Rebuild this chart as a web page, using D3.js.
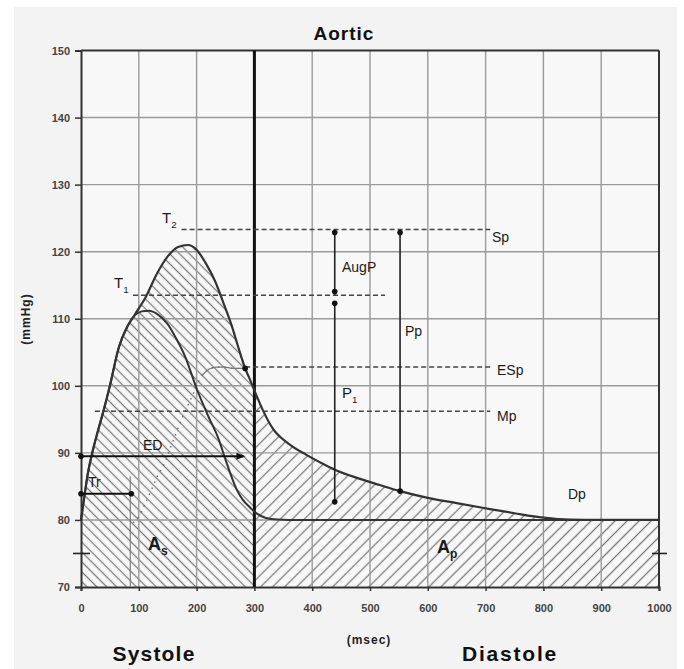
<!DOCTYPE html>
<html>
<head>
<meta charset="UTF-8">
<title>Aortic</title>
<script src="https://cdnjs.cloudflare.com/ajax/libs/d3/7.8.5/d3.min.js"></script>
<style>
  body { margin: 0; background: #fff; }
  svg text { font-family: "Liberation Sans", Arial, sans-serif; }
</style>
</head>
<body>
<div id="chart"></div>
<script>
// ---- data (msec, mmHg) ----
var xTicks = [0, 100, 200, 300, 400, 500, 600, 700, 800, 900, 1000];
var yTicks = [70, 80, 90, 100, 110, 120, 130, 140, 150];

var aortic = [[0,80],[5,83],[12,87],[20,90.2],[30,93.5],[40,96.6],[50,100],[65,105.6],[80,108.8],
  [93,110.6],[113,113.4],[130,116.5],[150,119.3],[168,120.7],[185,121],[200,120.3],[215,118.4],
  [232,115.6],[248,112],[261,108.9],[273,105.5],[284,102.6],[292,101],[300,99.3],[315,96.3],
  [332,93.6],[360,91.3],[390,89.7],[420,88.3],[439,87.5],[480,86.2],[517,85.2],[552,84.3],
  [600,83.3],[650,82.5],[702,81.7],[750,81],[800,80.35],[846,80.05],[900,80],[1000,80]];

var forwardWave = [[0,80],[5,83],[12,87],[20,90.2],[30,93.5],[40,96.6],[50,100],[65,105.6],[80,108.8],
  [93,110.5],[105,111.1],[118,111.2],[132,110.7],[150,109.2],[165,107],[180,104.4],[200,99.6],
  [220,95.5],[237,92.3],[250,89],[261,86.3],[270,84.4],[280,83],[292,81.9],[305,80.9],[320,80.3],
  [340,80.05],[360,80],[1000,80]];

var reflectedWave = [[90,79.6],[100,80.5],[113,82.8],[122,84.5],[131,86.3],[142,88],[158,91.5],
  [174,95],[191,98.2],[209,101.5],[222,102.5],[235,102.8],[248,102.8],[262,102.6],[284,102.6]];

// dashed levels: label, mmHg, from, to
var levelNames = ["Sp", "T1", "ESp", "Mp"];
var levelValues = [123.3, 113.5, 102.8, 96.2];
var levelFrom = [174, 90, 284, 24];
var levelTo = [708, 526, 708, 708];

// vertical arrows: x msec, top, bottom
var augP = [439, 123.3, 113.6];
var p1 = [439, 112.3, 82.7];
var pp = [552, 123.3, 84.3];
// horizontal arrows: y mmHg, from, to
var ed = [89.5, 0, 281];
var tr = [83.9, 0, 87];

var W = 684, H = 669;
var svg = d3.select("#chart").append("svg").attr("width", W).attr("height", H);

var x = d3.scaleLinear().domain([0, 1000]).range([81, 659]);
var y = d3.scaleLinear().domain([70, 150]).range([587, 50.5]);

// scanned page background
svg.append("rect").attr("x", 14).attr("y", 7).attr("width", 663).attr("height", 662).attr("fill", "#f3f3f3");
svg.append("rect").attr("x", x(0)).attr("y", y(150)).attr("width", x(1000) - x(0)).attr("height", y(70) - y(150))
  .attr("fill", "#f8f8f8");

var defs = svg.append("defs");
function hatch(id, angle, gap) {
  var p = defs.append("pattern").attr("id", id).attr("patternUnits", "userSpaceOnUse")
    .attr("width", gap).attr("height", gap).attr("patternTransform", "rotate(" + angle + ")");
  p.append("line").attr("x1", 0).attr("y1", gap / 2).attr("x2", gap).attr("y2", gap / 2)
    .attr("stroke", "#7a7a7a").attr("stroke-width", 1.3);
}
hatch("hatchS", 45, 7);
hatch("hatchD", -45, 8.5);

defs.append("clipPath").attr("id", "clipS").append("rect")
  .attr("x", x(0)).attr("y", 0).attr("width", x(300) - x(0)).attr("height", H);
defs.append("clipPath").attr("id", "clipD").append("rect")
  .attr("x", x(300)).attr("y", 0).attr("width", x(1000) - x(300)).attr("height", H);

var curve = d3.curveMonotoneX;
var area = d3.area().x(function(d) { return x(d[0]); }).y0(y(70)).y1(function(d) { return y(d[1]); }).curve(curve);
var line = d3.line().x(function(d) { return x(d[0]); }).y(function(d) { return y(d[1]); }).curve(curve);

svg.append("path").datum(aortic).attr("d", area).attr("fill", "url(#hatchS)").attr("clip-path", "url(#clipS)");
svg.append("path").datum(aortic).attr("d", area).attr("fill", "url(#hatchD)").attr("clip-path", "url(#clipD)");

// grid
svg.append("g").selectAll("line").data(xTicks.slice(1, -1)).enter().append("line")
  .attr("x1", function(d) { return x(d); }).attr("x2", function(d) { return x(d); })
  .attr("y1", y(150)).attr("y2", y(70)).attr("stroke", "#9a9a9a").attr("stroke-width", 1.4);
svg.append("g").selectAll("line").data(yTicks.slice(1, -1)).enter().append("line")
  .attr("x1", x(0)).attr("x2", x(1000)).attr("y1", function(d) { return y(d); }).attr("y2", function(d) { return y(d); })
  .attr("stroke", "#9a9a9a").attr("stroke-width", 1.4);

// axes
var gy = svg.append("g").attr("transform", "translate(" + x(0) + ",0)")
  .call(d3.axisLeft(y).tickValues(yTicks).tickFormat(d3.format("d")).tickSize(6).tickPadding(5));
var gx = svg.append("g").attr("transform", "translate(0," + y(70) + ")")
  .call(d3.axisBottom(x).tickValues(xTicks).tickFormat(d3.format("d")).tickSize(4).tickPadding(13));
[gx, gy].forEach(function(g) {
  g.select(".domain").attr("stroke", "#333").attr("stroke-width", 2);
  g.selectAll(".tick line").attr("stroke", "#333").attr("stroke-width", 1.5);
  g.selectAll(".tick text").attr("fill", "#444").style("font-size", "11px").style("font-weight", "bold")
    .style("font-family", "'Liberation Sans', Arial, sans-serif");
});

// frame
svg.append("line").attr("x1", x(0)).attr("x2", x(1000)).attr("y1", y(150)).attr("y2", y(150))
  .attr("stroke", "#333").attr("stroke-width", 2.2);
svg.append("line").attr("x1", x(1000)).attr("x2", x(1000)).attr("y1", y(150)).attr("y2", y(70))
  .attr("stroke", "#333").attr("stroke-width", 2);
svg.append("line").attr("x1", x(300)).attr("x2", x(300)).attr("y1", y(150)).attr("y2", y(70))
  .attr("stroke", "#111").attr("stroke-width", 3);

// + marks at 75
svg.append("line").attr("x1", x(0) - 8).attr("x2", x(0) + 9).attr("y1", y(75)).attr("y2", y(75))
  .attr("stroke", "#222").attr("stroke-width", 1.6);
svg.append("line").attr("x1", x(1000) - 7).attr("x2", x(1000) + 8).attr("y1", y(75)).attr("y2", y(75))
  .attr("stroke", "#222").attr("stroke-width", 1.6);

// Tr vertical guide
svg.append("line").attr("x1", x(tr[2]) - 1).attr("x2", x(tr[2]) - 1).attr("y1", y(86.5)).attr("y2", y(70))
  .attr("stroke", "#777").attr("stroke-width", 1.1);

// reflected wave
svg.append("path").datum(reflectedWave).attr("d", line).attr("fill", "none")
  .attr("stroke", "#666").attr("stroke-width", 1.3).attr("stroke-dasharray", "1.5,5");
svg.append("path").datum(reflectedWave.filter(function(d) { return d[0] >= 200; })).attr("d", line)
  .attr("fill", "none").attr("stroke", "#777").attr("stroke-width", 1.2);

// waves
svg.append("path").datum(forwardWave).attr("d", line).attr("fill", "none")
  .attr("stroke", "#333").attr("stroke-width", 2);
svg.append("path").datum(aortic).attr("d", line).attr("fill", "none")
  .attr("stroke", "#333").attr("stroke-width", 2.2);

// dashed levels
levelNames.forEach(function(n, i) {
  svg.append("line").attr("x1", x(levelFrom[i])).attr("x2", x(levelTo[i]))
    .attr("y1", y(levelValues[i])).attr("y2", y(levelValues[i]))
    .attr("stroke", "#444").attr("stroke-width", 1.6).attr("stroke-dasharray", "5,3");
});

// arrows
function dot(cx, cy) {
  svg.append("circle").attr("cx", cx).attr("cy", cy).attr("r", 2.8).attr("fill", "#111");
}
[augP, p1, pp].forEach(function(a) {
  svg.append("line").attr("x1", x(a[0])).attr("x2", x(a[0])).attr("y1", y(a[1])).attr("y2", y(a[2]))
    .attr("stroke", "#222").attr("stroke-width", 1.6);
});
dot(x(augP[0]), y(augP[1]) + 3); dot(x(augP[0]), y(augP[2]) - 3);
dot(x(p1[0]), y(p1[1])); dot(x(p1[0]), y(p1[2]));
dot(x(pp[0]), y(pp[1]) + 3); dot(x(pp[0]), y(pp[2]));

[ed, tr].forEach(function(a) {
  svg.append("line").attr("x1", x(a[1])).attr("x2", x(a[2])).attr("y1", y(a[0])).attr("y2", y(a[0]))
    .attr("stroke", "#111").attr("stroke-width", 2);
  dot(x(a[1]), y(a[0]));
});
svg.append("path").attr("d", "M" + (x(ed[2]) + 2) + "," + y(ed[0]) + "l-9,-3.5l0,7z").attr("fill", "#111");
dot(x(tr[2]), y(tr[0]));
dot(x(284), y(102.6));

// labels
function label(txt, sub, lx, ly, size, weight, subSize) {
  var t = svg.append("text").attr("x", lx).attr("y", ly).attr("fill", "#1a1a1a")
    .style("font-size", size + "px").style("font-weight", weight || "normal");
  t.append("tspan").text(txt);
  if (sub) t.append("tspan").attr("dy", size * 0.3).style("font-size", (subSize || size * 0.65) + "px").text(sub);
}
label("T", "2", 162, 223, 15);
label("T", "1", 114, 288, 15);
label("Sp", null, 492, 242, 14);
label("AugP", null, 342, 272, 14, "normal");
label("Pp", null, 405, 336, 14);
label("ESp", null, 497, 375, 14);
label("P", "1", 342, 398, 15);
label("Mp", null, 497, 421, 14);
label("ED", null, 143, 450, 14);
label("Tr", null, 88, 487, 14);
label("Dp", null, 568, 499, 14);
label("A", "s", 148, 550, 18, "bold", 12);
label("A", "p", 437, 553, 18, "bold", 12);

svg.append("text").attr("x", 344).attr("y", 40).attr("text-anchor", "middle").attr("fill", "#111")
  .style("font-size", "19px").style("font-weight", "bold").style("letter-spacing", "1px").text("Aortic");
svg.append("text").attr("x", 154).attr("y", 661).attr("text-anchor", "middle").attr("fill", "#111")
  .style("font-size", "21px").style("font-weight", "bold").style("letter-spacing", "1.2px").text("Systole");
svg.append("text").attr("x", 510).attr("y", 661).attr("text-anchor", "middle").attr("fill", "#111")
  .style("font-size", "21px").style("font-weight", "bold").style("letter-spacing", "1.8px").text("Diastole");
svg.append("text").attr("x", 369).attr("y", 644).attr("text-anchor", "middle").attr("fill", "#222")
  .style("font-size", "12px").style("font-weight", "bold").style("letter-spacing", "1px").text("(msec)");
svg.append("text").attr("transform", "translate(30,319) rotate(-90)").attr("text-anchor", "middle").attr("fill", "#222")
  .style("font-size", "12px").style("font-weight", "bold").style("letter-spacing", "1px").text("(mmHg)");
</script>
</body>
</html>
